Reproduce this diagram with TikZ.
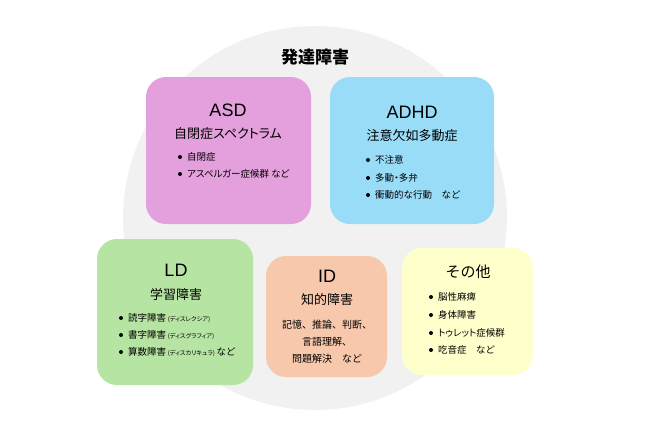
\documentclass[tikz,border=0pt]{standalone}
\usepackage{fontspec}
\setmainfont{Noto Sans CJK JP}
\newfontfamily\jpp[RawFeature=+palt]{Noto Sans CJK JP}
\newfontfamily\latin{Liberation Sans}
\definecolor{circgray}{RGB}{241,241,241}
\definecolor{asdpink}{RGB}{228,160,220}
\definecolor{adhdblue}{RGB}{152,220,248}
\definecolor{ldgreen}{RGB}{182,228,162}
\definecolor{idpeach}{RGB}{248,200,172}
\definecolor{otheryellow}{RGB}{255,255,204}
\tikzset{
  x=1pt, y=-1pt,
  catbox/.style={rounded corners=20pt, inner sep=0pt, draw=none},
  abbr/.style={font=\latin\fontsize{18}{20}\selectfont, inner sep=0pt},
  subt/.style={font=\fontsize{13}{15}\selectfont, inner sep=0pt},
  item/.style={font=\fontsize{9.5}{12}\selectfont, inner sep=0pt, anchor=west},
  pitem/.style={font=\jpp\fontsize{9.5}{12}\selectfont, inner sep=0pt, anchor=west},
  bul/.style={circle, fill=black, inner sep=0pt, minimum size=4pt},
  idline/.style={font=\fontsize{10}{12}\selectfont, inner sep=0pt}
}
\newcommand{\smalltxt}[1]{{\jpp\fontsize{6.2}{8}\selectfont #1}}
\begin{document}
\begin{tikzpicture}
\useasboundingbox (0,0) rectangle (650,434);
\fill[circgray] (315,218) circle (192);
\node[font=\bfseries\fontsize{17}{19}\selectfont, inner sep=0pt] (title) at (315,57) {発達障害};

% ASD
\node[catbox, fill=asdpink, minimum width=165pt, minimum height=147pt] (asd) at (228.5,150.5) {};
\node[abbr] (asdt) at (228,110) {ASD};
\node[subt, font=\jpp\fontsize{13}{15}\selectfont] (asds) at (228,134) {自閉症スペクトラム};
\node[bul] (asdb1) at (180,157) {};
\node[item] (asd1) at (187,157) {自閉症};
\node[bul] (asdb2) at (180,174) {};
\node[pitem] (asd2) at (187,174) {アスペルガー症候群 など};

% ADHD
\node[catbox, fill=adhdblue, minimum width=164pt, minimum height=147pt] (adhd) at (412,150.5) {};
\node[abbr] (adhdt) at (412,112) {ADHD};
\node[subt] (adhds) at (412,136) {注意欠如多動症};
\node[bul] (adhdb1) at (368,160) {};
\node[item] (adhd1) at (375,160) {不注意};
\node[bul] (adhdb2) at (368,178) {};
\node[pitem] (adhd2) at (375,178) {多動・多弁};
\node[bul] (adhdb3) at (368,195) {};
\node[item] (adhd3) at (375,195) {衝動的な行動\quad など};

% LD
\node[catbox, fill=ldgreen, minimum width=156pt, minimum height=146pt] (ld) at (175,312) {};
\node[abbr] (ldt) at (176,270) {LD};
\node[subt] (lds) at (176,295) {学習障害};
\node[bul] (ldb1) at (121,318) {};
\node[item] (ld1) at (128,318) {読字障害\,\smalltxt{(ディスレクシア)}};
\node[bul] (ldb2) at (121,335) {};
\node[item] (ld2) at (128,335) {書字障害\,\smalltxt{(ディスグラフィア)}};
\node[bul] (ldb3) at (121,352) {};
\node[item] (ld3) at (128,352) {算数障害\,\smalltxt{(ディスカリキュラ)}\,など};

% ID
\node[catbox, fill=idpeach, minimum width=121pt, minimum height=121pt] (id) at (326.5,316.5) {};
\node[abbr] (idt) at (327,276) {ID};
\node[subt] (ids) at (327,300) {知的障害};
\node[idline] (id1) at (327,325) {記憶、推論、判断、};
\node[idline] (id2) at (327,342) {言語理解、};
\node[idline] (id3) at (327,359) {問題解決\quad など};

% Other
\node[catbox, fill=otheryellow, minimum width=131pt, minimum height=127pt] (oth) at (467.5,311.5) {};
\node[font=\fontsize{15}{17}\selectfont, inner sep=0pt] (otht) at (468,272) {その他};
\node[bul] (othb1) at (431,297) {};
\node[item] (oth1) at (438,297) {脳性麻痺};
\node[bul] (othb2) at (431,315) {};
\node[item] (oth2) at (438,315) {身体障害};
\node[bul] (othb3) at (431,333) {};
\node[pitem] (oth3) at (438,333) {トゥレット症候群};
\node[bul] (othb4) at (431,350) {};
\node[item] (oth4) at (438,350) {吃音症\quad など};
\end{tikzpicture}
\end{document}
